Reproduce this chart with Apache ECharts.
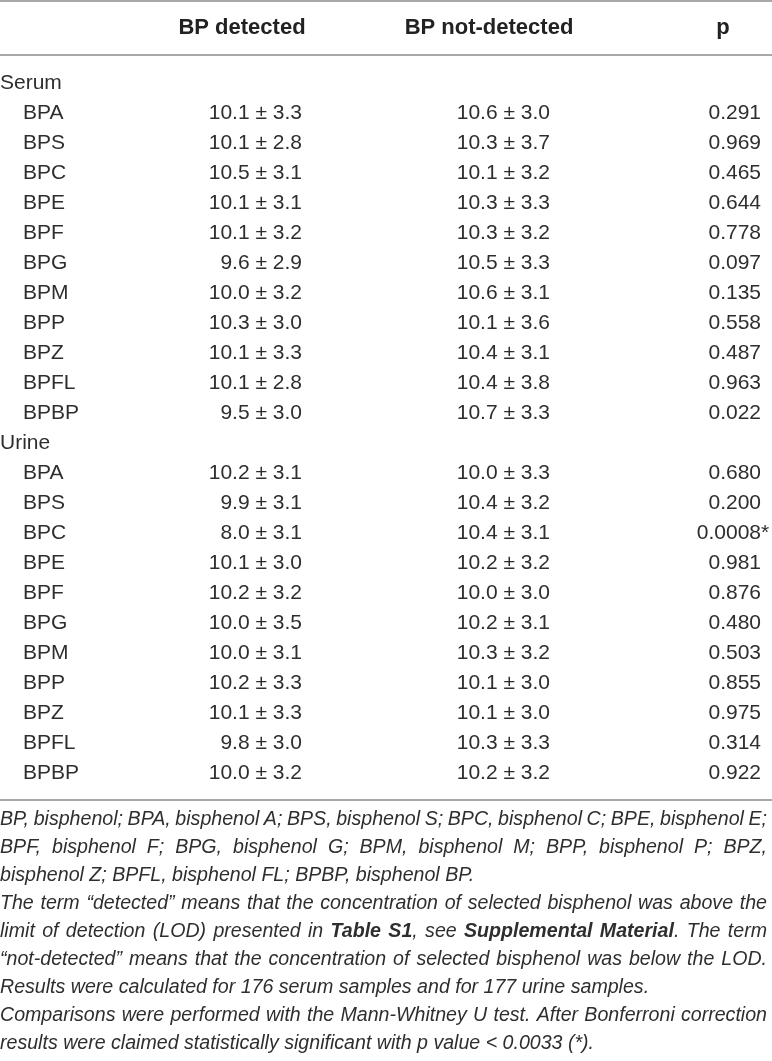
<!DOCTYPE html>
<html>
<head>
<meta charset="utf-8">
<title>BP detected vs not-detected</title>
<script src="https://cdn.jsdelivr.net/npm/echarts@6/dist/echarts.min.js"></script>
<style>
  html, body { margin: 0; padding: 0; background: #fff; }
  #main { width: 772px; height: 1061px; }
</style>
</head>
<body>
<div id="main"></div>
<script>
var groups = ['Serum', 'Urine'];
var compounds = ['BPA', 'BPS', 'BPC', 'BPE', 'BPF', 'BPG', 'BPM', 'BPP', 'BPZ', 'BPFL', 'BPBP'];
var headers = ['BP detected', 'BP not-detected', 'p'];

var serumDetMean = [10.1, 10.1, 10.5, 10.1, 10.1, 9.6, 10.0, 10.3, 10.1, 10.1, 9.5];
var serumDetSd   = [3.3, 2.8, 3.1, 3.1, 3.2, 2.9, 3.2, 3.0, 3.3, 2.8, 3.0];
var serumNdMean  = [10.6, 10.3, 10.1, 10.3, 10.3, 10.5, 10.6, 10.1, 10.4, 10.4, 10.7];
var serumNdSd    = [3.0, 3.7, 3.2, 3.3, 3.2, 3.3, 3.1, 3.6, 3.1, 3.8, 3.3];
var serumP       = [0.291, 0.969, 0.465, 0.644, 0.778, 0.097, 0.135, 0.558, 0.487, 0.963, 0.022];

var urineDetMean = [10.2, 9.9, 8.0, 10.1, 10.2, 10.0, 10.0, 10.2, 10.1, 9.8, 10.0];
var urineDetSd   = [3.1, 3.1, 3.1, 3.0, 3.2, 3.5, 3.1, 3.3, 3.3, 3.0, 3.2];
var urineNdMean  = [10.0, 10.4, 10.4, 10.2, 10.0, 10.2, 10.3, 10.1, 10.1, 10.3, 10.2];
var urineNdSd    = [3.3, 3.2, 3.1, 3.2, 3.0, 3.1, 3.2, 3.0, 3.0, 3.3, 3.2];
var urineP       = [0.680, 0.200, 0.0008, 0.981, 0.876, 0.480, 0.503, 0.855, 0.975, 0.314, 0.922];

var alpha = 0.0033; // Bonferroni threshold

// footnote lines: [text, bold] pieces, justified flag
var notes = [
  { j: true,  p: [['BP, bisphenol; BPA, bisphenol A; BPS, bisphenol S; BPC, bisphenol C; BPE, bisphenol E;', 0]] },
  { j: true,  p: [['BPF, bisphenol F; BPG, bisphenol G; BPM, bisphenol M; BPP, bisphenol P; BPZ,', 0]] },
  { j: false, p: [['bisphenol Z; BPFL, bisphenol FL; BPBP, bisphenol BP.', 0]] },
  { j: true,  p: [['The term \u201cdetected\u201d means that the concentration of selected bisphenol was above the', 0]] },
  { j: true,  p: [['limit of detection (LOD) presented in ', 0], ['Table S1', 1], [', see ', 0], ['Supplemental Material', 1], ['. The term', 0]] },
  { j: true,  p: [['\u201cnot-detected\u201d means that the concentration of selected bisphenol was below the LOD.', 0]] },
  { j: false, p: [['Results were calculated for 176 serum samples and for 177 urine samples.', 0]] },
  { j: true,  p: [['Comparisons were performed with the Mann-Whitney U test. After Bonferroni correction', 0]] },
  { j: false, p: [['results were claimed statistically significant with p value < 0.0033 (*).', 0]] }
];

// ---- build rows ----
function ms(m, s) { return m.toFixed(1) + ' \u00b1 ' + s.toFixed(1); }
function fp(p) { return (p < 0.001 ? p.toFixed(4) : p.toFixed(3)) + (p < alpha ? '*' : ''); }

var rows = [];
var sets = [
  [serumDetMean, serumDetSd, serumNdMean, serumNdSd, serumP],
  [urineDetMean, urineDetSd, urineNdMean, urineNdSd, urineP]
];
groups.forEach(function (g, gi) {
  rows.push({ key: g, label: g, head: true });
  var s = sets[gi];
  compounds.forEach(function (c, i) {
    rows.push({
      key: g + ':' + c, label: c, head: false,
      det: ms(s[0][i], s[1][i]), nd: ms(s[2][i], s[3][i]), p: fp(s[4][i])
    });
  });
});

var FONT = '"Liberation Sans", Arial, Helvetica, sans-serif';
var INK = '#2e2e2e';
var W = 772;
var NOTE_PX = '19.6px ';

// text measuring for the justified footnote
var ctx = document.createElement('canvas').getContext('2d');
function tw(t, bold) {
  ctx.font = 'italic ' + (bold ? 'bold ' : '') + NOTE_PX + FONT;
  return ctx.measureText(t).width;
}

function noteGraphics() {
  var out = [];
  var y0 = 820, lh = 28, right = 767;
  notes.forEach(function (ln, li) {
    // split pieces into words (each word = list of pieces)
    var words = [[]];
    ln.p.forEach(function (pc) {
      var parts = pc[0].split(' ');
      parts.forEach(function (pt, k) {
        if (k > 0) words.push([]);
        if (pt !== '') words[words.length - 1].push([pt, pc[1]]);
      });
    });
    words = words.filter(function (w) { return w.length; });
    var wsum = 0, widths = [];
    words.forEach(function (w) {
      var ww = 0;
      w.forEach(function (pc) { ww += tw(pc[0], pc[1]); });
      widths.push(ww); wsum += ww;
    });
    var gap = tw(' ', 0);
    if (ln.j && words.length > 1) gap = (right - wsum) / (words.length - 1);
    var x = 0, y = y0 + li * lh;
    words.forEach(function (w, wi) {
      var px = x;
      w.forEach(function (pc) {
        out.push({
          type: 'text', x: px, y: y, silent: true,
          style: {
            text: pc[0], fill: INK, align: 'left', verticalAlign: 'middle',
            font: 'italic ' + (pc[1] ? 'bold ' : '') + NOTE_PX + FONT
          }
        });
        px += tw(pc[0], pc[1]);
      });
      x += widths[wi] + gap;
    });
  });
  return out;
}

var chart = echarts.init(document.getElementById('main'), null, { renderer: 'canvas' });

var hdrX = [242, 489, 723];
var graphics = [
  { type: 'line', shape: { x1: 0, y1: 1, x2: W, y2: 1 }, style: { stroke: '#a8a8a8', lineWidth: 2 } },
  { type: 'line', shape: { x1: 0, y1: 55, x2: W, y2: 55 }, style: { stroke: '#a8a8a8', lineWidth: 2 } },
  { type: 'line', shape: { x1: 0, y1: 800, x2: W, y2: 800 }, style: { stroke: '#a8a8a8', lineWidth: 2 } }
];
headers.forEach(function (h, i) {
  graphics.push({
    type: 'text', x: hdrX[i], y: 28, silent: true,
    style: { text: h, fill: '#222', align: 'center', verticalAlign: 'middle', font: 'bold 22px ' + FONT }
  });
});
graphics = graphics.concat(noteGraphics());

// column anchors (layout): label indent, right edges of value columns
var colLabel = [0, 23], colDet = 302, colNd = 550, colP = 761;
var starW = 0;
ctx.font = '21px ' + FONT; starW = ctx.measureText('*').width;

function cell(pt, text, align) {
  return {
    type: 'text', x: pt[0], y: pt[1], silent: true,
    style: { text: text, fill: INK, align: align, verticalAlign: 'middle', font: '21px ' + FONT }
  };
}

var option = {
  backgroundColor: '#fff',
  animation: false,
  grid: { left: 0, right: 0, top: 68, bottom: 273, containLabel: false },
  xAxis: { type: 'value', min: 0, max: W, show: false },
  yAxis: {
    type: 'category', inverse: true, show: false,
    data: rows.map(function (r) { return r.key; })
  },
  graphic: graphics,
  series: [{
    type: 'custom',
    coordinateSystem: 'cartesian2d',
    data: rows.map(function (r, i) { return [0, i]; }),
    encode: { x: 0, y: 1 },
    renderItem: function (params, api) {
      var r = rows[params.dataIndex];
      var yi = api.value(1);
      var kids = [cell(api.coord([r.head ? colLabel[0] : colLabel[1], yi]), r.label, 'left')];
      if (!r.head) {
        kids.push(cell(api.coord([colDet, yi]), r.det, 'right'));
        kids.push(cell(api.coord([colNd, yi]), r.nd, 'right'));
        var pp = api.coord([colP, yi]);
        if (r.p.slice(-1) === '*') pp[0] += starW;
        kids.push(cell(pp, r.p, 'right'));
      }
      return { type: 'group', children: kids };
    }
  }]
};

chart.setOption(option);
</script>
</body>
</html>
